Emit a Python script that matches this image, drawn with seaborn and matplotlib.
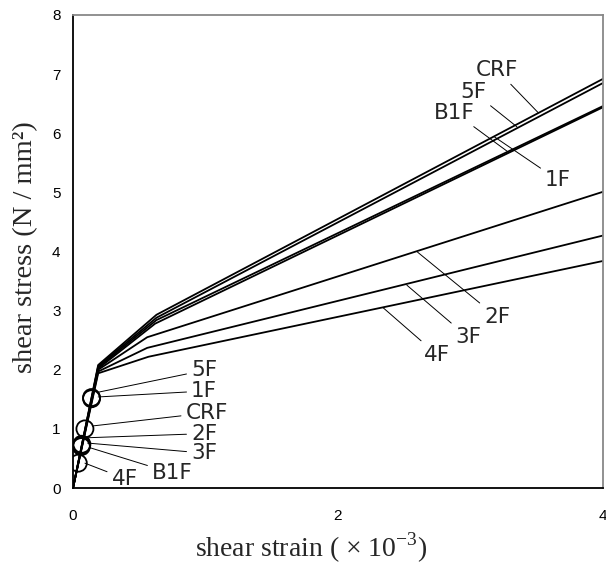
import matplotlib
matplotlib.use("Agg")
import matplotlib.pyplot as plt
import seaborn as sns
import pandas as pd

# ---- data ----
series = ["CRF", "5F", "B1F", "1F", "2F", "3F", "4F"]
strain_pts = {
    "CRF": [0, 0.19, 0.63, 4.0],
    "5F":  [0, 0.19, 0.63, 4.0],
    "B1F": [0, 0.19, 0.63, 4.0],
    "1F":  [0, 0.19, 0.62, 4.0],
    "2F":  [0, 0.19, 0.56, 4.0],
    "3F":  [0, 0.19, 0.56, 4.0],
    "4F":  [0, 0.19, 0.57, 4.0],
}
stress_pts = {
    "CRF": [0, 2.08, 2.93, 6.92],
    "5F":  [0, 2.06, 2.88, 6.85],
    "B1F": [0, 2.04, 2.84, 6.46],
    "1F":  [0, 2.02, 2.78, 6.44],
    "2F":  [0, 2.00, 2.55, 5.01],
    "3F":  [0, 1.97, 2.37, 4.27],
    "4F":  [0, 1.94, 2.22, 3.84],
}
# crack points (circles)
crack_strain = [0.09, 0.14, 0.065, 0.14, 0.067, 0.063, 0.04]
crack_stress = [1.00, 1.53, 0.72, 1.51, 0.74, 0.70, 0.42]

# label annotations: (text, target x, target y, text x, text y)
labels_upper = [
    ("CRF", 3.51, 6.35, 3.20, 7.07),
    ("5F", 3.35, 6.11, 3.02, 6.70),
    ("B1F", 3.28, 5.69, 2.88, 6.35),
    ("1F", 3.18, 5.94, 3.66, 5.21),
    ("2F", 2.60, 3.99, 3.20, 2.89),
    ("3F", 2.52, 3.43, 2.98, 2.55),
    ("4F", 2.34, 3.05, 2.75, 2.25),
]
labels_lower = [
    ("5F", 0.19, 1.62, 0.99, 1.99),
    ("1F", 0.19, 1.54, 0.99, 1.64),
    ("CRF", 0.15, 1.05, 1.01, 1.27),
    ("2F", 0.11, 0.85, 0.99, 0.92),
    ("3F", 0.11, 0.76, 0.99, 0.59),
    ("B1F", 0.13, 0.68, 0.75, 0.25),
    ("4F", 0.09, 0.42, 0.39, 0.16),
]

x_ticks = [0, 2, 4]
y_ticks = [0, 1, 2, 3, 4, 5, 6, 7, 8]

rows = []
for s in series:
    for xv, yv in zip(strain_pts[s], stress_pts[s]):
        rows.append({"series": s, "strain": xv, "stress": yv})
df = pd.DataFrame(rows)
crack_df = pd.DataFrame({"series": series, "strain": crack_strain, "stress": crack_stress})

sns.set_theme(style="white")
plt.rcParams["font.family"] = ["Liberation Sans", "DejaVu Sans"]
plt.rcParams["mathtext.fontset"] = "custom"
plt.rcParams["mathtext.rm"] = "Liberation Serif"

fig = plt.figure(figsize=(6.06, 5.67), dpi=100)
ax = fig.add_axes([73 / 606, 1 - 488 / 567, 530 / 606, 473 / 567])

sns.lineplot(data=df, x="strain", y="stress", units="series", estimator=None,
             sort=False, color="black", lw=1.3, ax=ax, legend=False)
sns.scatterplot(data=crack_df, x="strain", y="stress", marker="o", s=150,
                facecolor="none", edgecolor="black", linewidth=1.3, ax=ax,
                legend=False, zorder=5)

for txt, tx, ty, lx, ly in labels_upper + labels_lower:
    ax.annotate(txt, xy=(tx, ty), xytext=(lx, ly), ha="center", va="center",
                fontfamily=["DejaVu Sans"], fontsize=15.5,
                arrowprops=dict(arrowstyle="-", lw=0.7, color="black",
                                shrinkA=1, shrinkB=0), annotation_clip=False)

ax.set_xlim(0, 4)
ax.set_ylim(0, 8)
ax.set_xticks(x_ticks)
ax.set_yticks(y_ticks)
ax.tick_params(axis="both", direction="in", length=5, width=0.8, colors="black",
               labelsize=11)
ax.tick_params(axis="x", pad=15)
ax.tick_params(axis="y", pad=9)

for side in ["left", "bottom"]:
    ax.spines[side].set_color("black")
    ax.spines[side].set_linewidth(1.3)
for side in ["top", "right"]:
    ax.spines[side].set_color("#888888")
    ax.spines[side].set_linewidth(1.3)

ax.set_xlabel("shear strain ( × 10$^{\\mathregular{-3}}$)", fontsize=20,
              family=["Liberation Serif", "DejaVu Serif"])
ax.set_ylabel("shear stress (N / mm²)", fontsize=20.5,
              family=["Liberation Serif", "DejaVu Serif"])
ax.xaxis.label.set_va("center")
ax.yaxis.label.set_va("center")
ax.xaxis.set_label_coords(0.45, -0.127)
ax.yaxis.set_label_coords(-0.089, 0.51)

fig.savefig("out.png", dpi=100)
